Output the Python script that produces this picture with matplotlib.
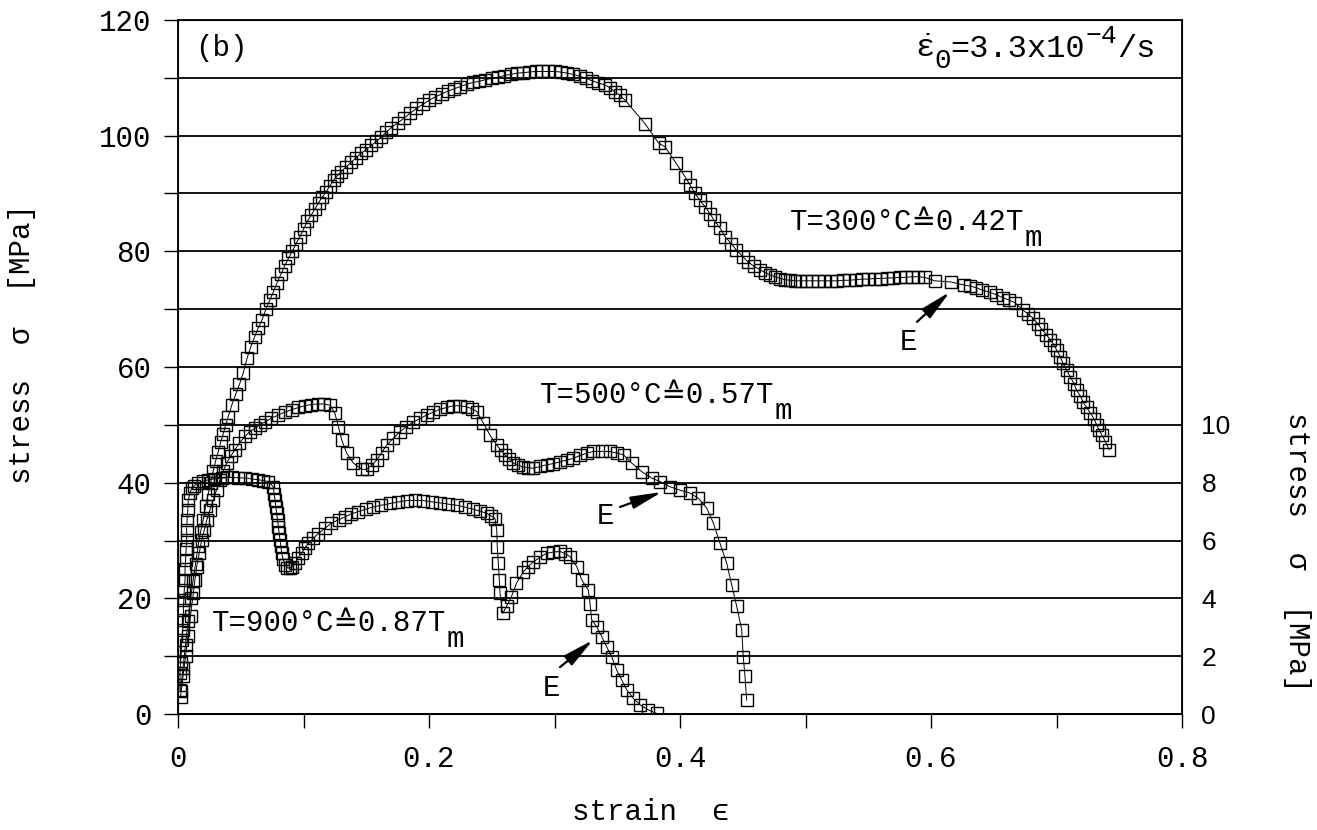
import numpy as np
import matplotlib
matplotlib.use('Agg')
import matplotlib.pyplot as plt
from matplotlib.ticker import FixedLocator

plt.rcParams['font.family'] = ['Liberation Mono', 'DejaVu Sans']
plt.rcParams['mathtext.fontset'] = 'custom'
plt.rcParams['mathtext.rm'] = 'Liberation Mono'
plt.rcParams['mathtext.it'] = 'Liberation Mono'
plt.rcParams.update({'font.size': 21})

# T = 300 C  (left axis, MPa)
strain_300 = [0.002, 0.004, 0.006, 0.008, 0.010, 0.012, 0.014, 0.016, 0.018, 0.020,
              0.022, 0.024, 0.026, 0.028, 0.030, 0.032, 0.034, 0.036, 0.038, 0.040,
              0.043, 0.046, 0.049, 0.052, 0.055, 0.058, 0.061, 0.064, 0.067, 0.070,
              0.073, 0.076, 0.079, 0.082, 0.085, 0.088, 0.091, 0.094, 0.097, 0.100,
              0.103, 0.106, 0.109, 0.112, 0.115, 0.118, 0.121, 0.124, 0.127, 0.130,
              0.134, 0.138, 0.142, 0.146, 0.150, 0.154, 0.158, 0.162, 0.166, 0.170,
              0.175, 0.180, 0.185, 0.190, 0.195, 0.200, 0.205, 0.210, 0.215, 0.220,
              0.225, 0.230, 0.235, 0.240, 0.245, 0.250, 0.255, 0.260, 0.265, 0.270,
              0.275, 0.280, 0.285, 0.290, 0.295, 0.300, 0.305, 0.310, 0.315, 0.320,
              0.325, 0.330, 0.335, 0.340, 0.344, 0.348, 0.352, 0.356, 0.372, 0.383,
              0.388, 0.397, 0.404, 0.408, 0.412, 0.416, 0.420, 0.424, 0.427, 0.432,
              0.436, 0.441, 0.445, 0.450, 0.454, 0.459, 0.464, 0.468, 0.472, 0.476,
              0.480, 0.484, 0.488, 0.492, 0.496, 0.500, 0.505, 0.510, 0.515, 0.520,
              0.525, 0.530, 0.535, 0.540, 0.545, 0.550, 0.555, 0.560, 0.565, 0.570,
              0.575, 0.580, 0.585, 0.590, 0.595, 0.603, 0.616, 0.626, 0.631, 0.636,
              0.641, 0.647, 0.652, 0.657, 0.662, 0.667, 0.673, 0.677, 0.681, 0.685,
              0.688, 0.692, 0.695, 0.698, 0.700, 0.703, 0.705, 0.708, 0.711, 0.714,
              0.716, 0.719, 0.721, 0.724, 0.727, 0.730, 0.732, 0.734, 0.736, 0.739,
              0.742]
stress_300 = [4.0, 8.0, 12.0, 16.0, 20.0, 23.0, 26.0, 29.0, 31.5, 33.5,
              36.0, 38.0, 40.0, 42.0, 43.8, 45.3, 47.0, 48.4, 50.0, 51.4,
              53.5, 55.3, 57.0, 59.0, 61.5, 63.5, 65.2, 66.8, 68.2, 70.0,
              71.5, 73.0, 74.6, 76.0, 77.5, 78.8, 80.0, 81.3, 82.5, 83.8,
              85.2, 86.2, 87.3, 88.4, 89.4, 90.3, 91.3, 92.3, 93.1, 93.8,
              94.6, 95.4, 96.2, 97.0, 97.6, 98.3, 99.0, 99.8, 100.6, 101.4,
              102.2, 103.0, 103.9, 104.7, 105.4, 106.1, 106.7, 107.2, 107.7, 108.1,
              108.5, 108.9, 109.2, 109.4, 109.7, 109.9, 110.1, 110.4, 110.6, 110.8,
              110.9, 111.0, 111.1, 111.1, 111.1, 111.1, 111.0, 110.8, 110.6, 110.3,
              109.9, 109.5, 109.1, 108.8, 108.3, 107.6, 107.0, 106.2, 102.1, 98.7,
              98.1, 95.2, 92.9, 91.5, 90.0, 88.8, 87.7, 86.5, 85.4, 84.0,
              82.5, 81.3, 80.2, 79.1, 78.2, 77.4, 76.8, 76.3, 75.9, 75.6,
              75.3, 75.1, 75.0, 74.9, 74.9, 74.9, 74.9, 74.9, 74.9, 74.9,
              74.9, 75.0, 75.0, 75.1, 75.2, 75.2, 75.3, 75.3, 75.4, 75.4,
              75.5, 75.5, 75.6, 75.6, 75.5, 74.9, 74.7, 74.2, 74.0, 73.7,
              73.3, 72.9, 72.5, 72.0, 71.6, 71.1, 69.9, 69.2, 68.5, 67.5,
              66.6, 65.6, 64.7, 63.8, 63.0, 61.8, 60.7, 59.5, 58.3, 57.1,
              56.0, 55.0, 54.0, 53.0, 52.0, 51.0, 50.0, 49.1, 48.3, 47.1,
              45.7]

# T = 500 C  (left axis, MPa)
strain_500 = [0.002, 0.004, 0.006, 0.008, 0.010, 0.0122, 0.0135, 0.0149, 0.0169, 0.0189,
              0.0209, 0.0229, 0.0255, 0.0281, 0.0308, 0.0335, 0.036, 0.0388, 0.042, 0.0454,
              0.049, 0.0534, 0.057, 0.0614, 0.065, 0.0693, 0.074, 0.080, 0.085, 0.0906,
              0.096, 0.1012, 0.106, 0.1118, 0.116, 0.1211, 0.125, 0.1278, 0.1304, 0.1344,
              0.1397, 0.1464, 0.1503, 0.1543, 0.1583, 0.1623, 0.1663, 0.1716, 0.1769, 0.182,
              0.1875, 0.193, 0.1982, 0.2035, 0.2088, 0.214, 0.2194, 0.225, 0.230, 0.234,
              0.238, 0.2433, 0.2486, 0.254, 0.2573, 0.2606, 0.2639, 0.2672, 0.2712, 0.2752,
              0.2792, 0.2831, 0.2885, 0.2938, 0.2991, 0.3044, 0.3097, 0.315, 0.3203, 0.3257,
              0.331, 0.3375, 0.344, 0.350, 0.355, 0.3615, 0.3695, 0.3774, 0.384, 0.392,
              0.400, 0.408, 0.4146, 0.4213, 0.4266, 0.4319, 0.4372, 0.4412, 0.4452, 0.4492,
              0.4504, 0.4518, 0.4531]
stress_500 = [3.0, 6.5, 10.0, 13.5, 17.0, 20.9, 23.2, 25.5, 27.8, 30.1,
              31.8, 33.5, 35.3, 37.0, 38.8, 40.5, 42.0, 43.4, 44.6, 45.7,
              46.9, 48.0, 48.8, 49.4, 50.0, 50.5, 51.1, 51.7, 52.2, 52.6,
              53.0, 53.3, 53.5, 53.6, 53.6, 53.4, 52.0, 49.7, 47.4, 45.1,
              43.4, 42.3, 42.3, 43.0, 43.9, 45.2, 46.5, 47.7, 48.8, 49.7,
              50.5, 51.1, 51.7, 52.2, 52.7, 53.0, 53.3, 53.3, 53.1, 52.8,
              52.3, 50.3, 48.2, 46.5, 45.6, 44.8, 44.1, 43.4, 43.0, 42.7,
              42.6, 42.5, 42.8, 43.1, 43.3, 43.6, 43.9, 44.2, 44.7, 45.1,
              45.4, 45.4, 45.4, 45.1, 44.8, 43.4, 41.9, 40.8, 40.2, 39.3,
              38.7, 38.2, 37.3, 35.6, 33.0, 29.5, 26.1, 22.3, 18.6, 14.5,
              9.9, 6.5, 2.4]

# T = 900 C  (right axis, MPa)
strain_900 = [0.0016, 0.0016, 0.002, 0.003, 0.0037, 0.0043, 0.0043, 0.0046, 0.005, 0.0056,
              0.0056, 0.006, 0.0065, 0.0069, 0.0069, 0.0072, 0.0078, 0.0082, 0.0095, 0.0109,
              0.013, 0.0162, 0.020, 0.0242, 0.029, 0.0348, 0.039, 0.0428, 0.048, 0.0534,
              0.059, 0.064, 0.068, 0.072, 0.0759, 0.0766, 0.0773, 0.078, 0.0786, 0.0793,
              0.080, 0.0806, 0.0813, 0.082, 0.0826, 0.0838, 0.0853, 0.0872, 0.0892, 0.0912,
              0.0932, 0.0958, 0.0985, 0.101, 0.1038, 0.1078, 0.1118, 0.117, 0.1223, 0.128,
              0.1331, 0.138, 0.1437, 0.150, 0.1556, 0.162, 0.169, 0.175, 0.1822, 0.189,
              0.1955, 0.202, 0.2088, 0.215, 0.222, 0.229, 0.2353, 0.241, 0.246, 0.2495,
              0.2526, 0.254, 0.2544, 0.2552, 0.256, 0.2566, 0.2587, 0.2618, 0.2657, 0.2697,
              0.2752, 0.279, 0.2831, 0.2885, 0.2938, 0.299, 0.3044, 0.3084, 0.3124, 0.3177,
              0.3217, 0.327, 0.3283, 0.3296, 0.3336, 0.3376, 0.3416, 0.3456, 0.3495, 0.3535,
              0.3575, 0.3628, 0.3681, 0.3748, 0.3814]
stress_900 = [0.84, 1.42, 1.76, 2.56, 2.9, 3.26, 3.6, 3.94, 4.3, 4.64,
              5.0, 5.32, 5.7, 6.02, 6.36, 6.7, 7.05, 7.4, 7.65, 7.8,
              7.9, 7.98, 8.05, 8.1, 8.13, 8.16, 8.18, 8.18, 8.17, 8.16,
              8.13, 8.1, 8.07, 8.04, 7.86, 7.6, 7.4, 7.15, 6.94, 6.7,
              6.48, 6.25, 6.02, 5.8, 5.56, 5.35, 5.16, 5.06, 5.04, 5.1,
              5.22, 5.4, 5.56, 5.73, 5.9, 6.08, 6.24, 6.42, 6.6, 6.72,
              6.82, 6.92, 7.0, 7.09, 7.16, 7.22, 7.28, 7.33, 7.38, 7.39,
              7.38, 7.34, 7.3, 7.26, 7.22, 7.15, 7.08, 7.01, 6.94, 6.85,
              6.76, 6.36, 5.78, 5.22, 4.64, 4.18, 3.48, 3.72, 4.06, 4.52,
              4.92, 5.1, 5.26, 5.42, 5.56, 5.6, 5.62, 5.55, 5.44, 5.1,
              4.64, 4.28, 3.82, 3.26, 3.02, 2.68, 2.32, 1.98, 1.52, 1.18,
              0.84, 0.54, 0.32, 0.14, 0.02]

left_ticks = list(range(0, 121, 10))
left_labels = [str(v) if v % 20 == 0 else '' for v in left_ticks]
x_ticks = [0, 0.1, 0.2, 0.3, 0.4, 0.5, 0.6, 0.7, 0.8]
x_labels = ['0', '', '0.2', '', '0.4', '', '0.6', '', '0.8']
right_ticks = [0, 2, 4, 6, 8, 10]

W, H = 1317, 830
fig = plt.figure(figsize=(W / 100, H / 100), dpi=100)
ax = fig.add_axes([178 / W, 1 - 714 / H, (1182 - 178) / W, (714 - 20) / H])

mk = dict(marker='s', markersize=9, markerfacecolor='none', markeredgecolor='black',
          markeredgewidth=1.0, color='black', linewidth=0.7)
ax.plot(strain_300, stress_300, **mk)
ax.plot(strain_500, stress_500, **mk)

ax.set_xlim(0, 0.8)
ax.set_ylim(0, 120)
ax.set_yticks(left_ticks)
ax.set_yticklabels(left_labels)
ax.set_xticks(x_ticks)
ax.set_xticklabels(x_labels)
ax.yaxis.grid(True, color='black', linewidth=1.3)
ax.set_axisbelow(True)
ax.tick_params(axis='both', direction='out', length=10, width=1.0, labelsize=21)
ax.tick_params(axis='y', pad=9)
ax.tick_params(axis='x', pad=12)
for s in ax.spines.values():
    s.set_linewidth(1.3)

ax2 = ax.twinx()
ax2.plot(strain_900, stress_900, **mk)
ax2.set_ylim(0, 24)
ax2.yaxis.set_major_locator(FixedLocator(right_ticks))
ax2.tick_params(axis='y', length=0, pad=14, labelsize=19)
for lab in ax2.get_yticklabels():
    lab.set_family('Liberation Sans')


def run_text(x, y, pieces):
    # pieces: (text, size, baseline shift in pixels), laid out left to right
    prev = ax.text(x, y, pieces[0][0], fontsize=pieces[0][1], va='baseline', ha='left')
    for s, size, dy in pieces[1:]:
        prev = ax.annotate(s, xy=(1.0, y), xycoords=(prev, 'data'), xytext=(0, dy),
                           textcoords='offset pixels', fontsize=size,
                           va='baseline', ha='left')


ax.text(0.0136, 115.2, '(b)', va='center', ha='left')
run_text(0.5873, 113.6, [(r'$\dot{\epsilon}$', 23, 0), ('0', 20, -11),
                         ('=3.3x10', 23, 0), ('−4', 19, 14), ('/s', 23, 0)])

run_text(0.4876, 83.7, [('T=300°C≙0.42T', 21, 0), ('m', 21, -16)])
run_text(0.2884, 53.8, [('T=500°C≙0.57T', 21, 0), ('m', 21, -16)])
run_text(0.0271, 14.35, [('T=900°C≙0.87T', 21, 0), ('m', 21, -16)])

arrow = dict(arrowstyle='-|>,head_length=0.9,head_width=0.18', color='black',
             linewidth=1.6, shrinkA=0, shrinkB=0)
ax.annotate('', xy=(0.6151, 73.0), xytext=(0.5888, 67.8), arrowprops=arrow)
ax.text(0.5817, 64.3, 'E', ha='center', va='center')
ax.annotate('', xy=(0.3857, 38.4), xytext=(0.3522, 35.8), arrowprops=arrow)
ax.text(0.3410, 34.2, 'E', ha='center', va='center')
ax.annotate('', xy=(0.3307, 12.8), xytext=(0.3044, 8.1), arrowprops=arrow)
ax.text(0.2980, 4.5, 'E', ha='center', va='center')

# axis titles
fig.text(22 / W, 1 - 344 / H, 'stress  σ  [MPa]', rotation=90, ha='center', va='center')
fig.text(1297 / W, 1 - 552 / H, 'stress  σ  [MPa]', rotation=-90, ha='center', va='center')
fig.text(651 / W, 1 - 812 / H, 'strain  ϵ', ha='center', va='center')

fig.savefig('out.png', dpi=100)
